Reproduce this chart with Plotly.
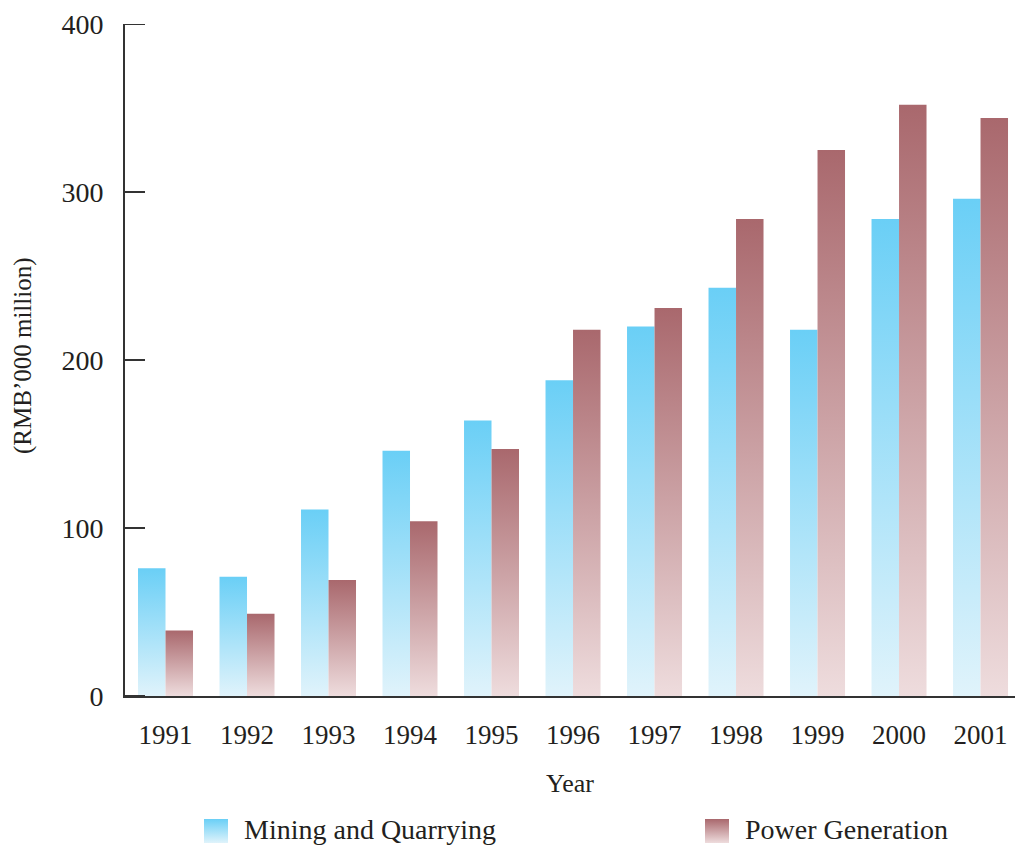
import plotly.graph_objects as go

# Output value (RMB'000 million) by year
years = ["1991", "1992", "1993", "1994", "1995", "1996", "1997", "1998", "1999", "2000", "2001"]
mining = [76, 71, 111, 146, 164, 188, 220, 243, 218, 284, 296]
power = [39, 49, 69, 104, 147, 218, 231, 284, 325, 352, 344]
y_ticks = [0, 100, 200, 300, 400]

series_names = ["Mining and Quarrying", "Power Generation"]
# (light bottom, saturated top) gradient stops for each series
series_colors = [("#e0f3fb", "#6acff6"), ("#eedcdd", "#a9686d")]

FONT = "Liberation Serif"
INK = "#231f20"
AXIS = "#333333"
BAR_W = 0.3374
PLOT_W = 1015 - 125
PLOT_H = 847 - 24

fig = go.Figure()


def add_bar(x_center, value, colors):
    x0, x1 = x_center - BAR_W / 2, x_center + BAR_W / 2
    fig.add_trace(go.Scatter(
        x=[x0, x1, x1, x0, x0],
        y=[0, 0, value, value, 0],
        mode="lines",
        line=dict(width=0),
        fill="toself",
        fillgradient=dict(type="vertical",
                          colorscale=[[0, colors[0]], [1, colors[1]]]),
        showlegend=False,
        hoverinfo="skip",
    ))


for i, (m, p) in enumerate(zip(mining, power)):
    add_bar(i - BAR_W / 2, m, series_colors[0])
    add_bar(i + BAR_W / 2, p, series_colors[1])

# Inward tick marks on the value axis
for tv in y_ticks:
    fig.add_shape(type="line", xref="paper", yref="y",
                  x0=0, x1=20 / PLOT_W, y0=tv, y1=tv,
                  line=dict(color=AXIS, width=2))

# Legend row drawn on an overlay axis measured in pixels up from the bottom edge
legend_x = [216, 717]
for name, colors, lx in zip(series_names, series_colors, legend_x):
    fig.add_trace(go.Scatter(
        x=[lx - 12, lx + 12, lx + 12, lx - 12, lx - 12],
        y=[4, 4, 28, 28, 4],
        mode="lines", line=dict(width=0), fill="toself",
        fillgradient=dict(type="vertical",
                          colorscale=[[0, colors[0]], [1, colors[1]]]),
        xaxis="x2", yaxis="y2", showlegend=False, hoverinfo="skip",
    ))
    fig.add_annotation(x=lx + 26, y=18, xref="x2", yref="y2", text=name,
                       showarrow=False, xanchor="left", yanchor="middle",
                       font=dict(family=FONT, size=28, color=INK))

# Value-axis title
fig.add_annotation(x=(23 - 125) / PLOT_W, y=847 - 356, xref="paper", yref="y2",
                   text="(RMB\u2019000 million)", textangle=-90, showarrow=False,
                   xanchor="center", yanchor="middle",
                   font=dict(family=FONT, size=25, color=INK))

fig.update_layout(
    width=1015, height=847,
    margin=dict(l=125, r=0, t=24, b=0, autoexpand=False),
    paper_bgcolor="white", plot_bgcolor="rgba(0,0,0,0)",
    showlegend=False,
    font=dict(family=FONT, color=INK),
    xaxis=dict(
        range=[-0.497, 10.423],
        tickmode="array", tickvals=list(range(len(years))), ticktext=years,
        tickfont=dict(family=FONT, size=27, color=INK),
        showgrid=False, zeroline=False,
        showline=True, linecolor=AXIS, linewidth=2,
        ticks="", ticklabelstandoff=14,
        title=dict(text="Year", font=dict(family=FONT, size=26, color=INK), standoff=24),
        domain=[0, 1], automargin=False,
        anchor="y",
    ),
    yaxis=dict(
        range=[0, 400],
        domain=[151 / PLOT_H, 1],
        tickmode="array", tickvals=y_ticks,
        tickfont=dict(family=FONT, size=28, color=INK),
        showgrid=False, zeroline=False,
        showline=True, linecolor=AXIS, linewidth=2,
        ticks="", ticklabelstandoff=14, automargin=False,
        anchor="x",
    ),
    xaxis2=dict(range=[125, 1015], domain=[0, 1], visible=False,
                fixedrange=True, anchor="y2"),
    yaxis2=dict(range=[0, PLOT_H], domain=[0, 1], visible=False,
                fixedrange=True, anchor="x2"),
)

fig.write_html("out.html")
